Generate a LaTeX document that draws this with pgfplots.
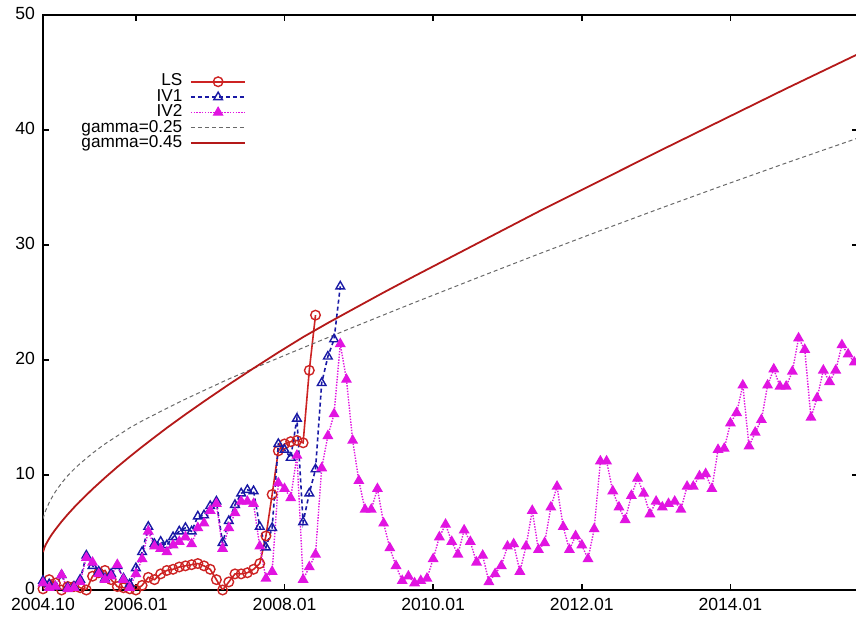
\documentclass[border=0pt]{standalone}
\usepackage{pgfplots}
\usepackage{pgfplotstable}
\pgfplotsset{compat=1.18}
\usepackage{fontspec}
\setmainfont{Liberation Sans}
\definecolor{lsred}{RGB}{205,35,35}
\definecolor{gred}{RGB}{180,25,25}
\definecolor{ivblue}{RGB}{25,25,165}
\definecolor{ivmag}{RGB}{225,20,225}
\definecolor{ggray}{RGB}{105,105,105}

\pgfplotstableread{
x y
0 0.1
1 0.9
2 0.6
3 0.0
4 0.3
5 0.3
6 0.2
7 0.0
8 1.2
9 1.5
10 1.7
11 0.9
12 0.3
13 0.2
14 0.1
15 0.0
16 0.4
17 1.1
18 0.9
19 1.4
20 1.7
21 1.8
22 2.0
23 2.1
24 2.2
25 2.3
26 2.1
27 1.8
28 0.9
29 0.0
30 0.7
31 1.4
32 1.4
33 1.5
34 1.8
35 2.3
36 4.7
37 8.3
38 12.1
39 12.7
40 12.9
41 13.0
42 12.8
43 19.1
44 23.9
}\lsdata

\pgfplotstableread{
x y
0 0.8
1 0.5
2 0.3
3 1.3
4 0.2
5 0.3
6 0.9
7 3.0
8 2.1
9 1.6
10 1.0
11 1.4
12 2.1
13 1.0
14 0.5
15 1.9
16 3.3
17 5.5
18 4.0
19 4.2
20 3.9
21 4.6
22 5.1
23 5.4
24 5.1
25 6.4
26 6.5
27 7.3
28 7.7
29 4.1
30 6.0
31 7.4
32 8.4
33 8.7
34 8.6
35 5.5
36 3.7
37 5.4
38 12.7
39 12.2
40 11.5
41 14.9
42 5.9
43 8.4
44 10.5
45 18.0
46 20.3
47 21.8
48 26.4
}\ivone

\pgfplotstableread{
x y
0 0.6
1 0.2
2 0.3
3 1.3
4 0.1
5 0.2
6 0.7
7 2.8
8 2.4
9 1.4
10 0.9
11 1.2
12 2.2
13 0.9
14 0.2
15 1.4
16 2.7
17 5.1
18 3.8
19 3.6
20 3.3
21 3.9
22 4.2
23 4.6
24 4.0
25 5.4
26 5.8
27 6.9
28 7.5
29 3.6
30 5.4
31 6.7
32 7.7
33 7.7
34 7.5
35 3.8
36 1.0
37 1.6
38 9.3
39 8.8
40 8.0
41 11.7
42 0.9
43 2.0
44 3.1
45 10.6
46 13.4
47 15.3
48 21.4
49 18.3
50 13.0
51 9.5
52 7.0
53 7.0
54 8.8
55 5.8
56 3.65
57 2.1
58 0.8
59 1.2
60 0.6
61 0.8
62 1.0
63 2.7
64 4.6
65 5.7
66 4.2
67 3.1
68 5.2
69 4.2
70 2.4
71 3.0
72 0.7
73 1.4
74 2.1
75 3.8
76 4.0
77 1.6
78 3.8
79 6.9
80 3.5
81 4.1
82 7.2
83 9.0
84 5.5
85 3.5
86 4.7
87 3.9
88 2.7
89 5.3
90 11.2
91 11.2
92 8.6
93 7.2
94 6.1
95 8.2
96 9.7
97 8.4
98 6.6
99 7.7
100 7.2
101 7.5
102 7.7
103 7.0
104 9.0
105 9.0
106 9.9
107 10.1
108 8.8
109 12.2
110 12.3
111 14.5
112 15.4
113 17.8
114 12.5
115 13.7
116 14.8
117 17.8
118 19.2
119 17.7
120 17.7
121 19.0
122 21.9
123 20.9
124 15.0
125 16.7
126 19.1
127 18.1
128 19.1
129 21.3
130 20.5
131 19.8
}\ivtwo

\pgfplotstableread{
x y
0 6.2
0.25 6.65
0.5 7.0
1 7.6
1.5 8.1
2 8.55
3 9.3
4 9.95
5 10.5
6 11.0
8 11.9
10 12.7
12 13.4
14 14.1
16 14.7
18 15.25
20 15.8
23 16.6
26 17.35
30 18.35
35 19.5
40 20.62
45 21.73
50 22.83
55 23.92
60 25.0
70 27.12
80 29.21
90 31.25
100 33.25
110 35.21
120 37.13
131.6 39.3
}\gone

\pgfplotstableread{
x y
0 3.3
0.25 3.72
0.5 4.0
1 4.48
1.5 4.89
2 5.26
3 5.95
4 6.58
5 7.17
6 7.73
8 8.78
10 9.76
12 10.7
14 11.59
16 12.45
18 13.28
20 14.1
23 15.27
26 16.4
30 17.87
34 19.28
38 20.66
42 21.99
46 23.22
50 24.4
55 25.87
60 27.3
70 30.1
80 32.9
90 35.6
100 38.3
110 40.95
120 43.6
131.6 46.6
}\gtwo

\begin{document}
\begin{tikzpicture}
\begin{axis}[name=ax, scale only axis, width=407.5pt, height=287.5pt,
 xmin=0, xmax=131.6, ymin=0, ymax=50,
 xtick={0,15,39,63,87,111},
 xticklabels={2004.10,2006.01,2008.01,2010.01,2012.01,2014.01},
 ytick={0,10,20,30,40,50},
 tick align=inside, major tick length=3pt,
 axis line style={line width=0.8pt},
 every tick/.style={black, line width=0.8pt},
 tick label style={font=\fontsize{8.8}{10}\selectfont},
 xticklabel style={yshift=-0.5pt, text depth=0pt},
 yticklabel style={text height=5pt, text depth=0pt, xshift=-0.5pt},
 /pgf/number format/assume math mode=true,
 legend plot pos=right, legend cell align=right,
 legend style={at={(0.25,0.898)}, anchor=north east, draw=none, fill=none,
   inner sep=0pt, column sep=3.5pt, font=\fontsize{8.6}{9}\selectfont,
   nodes={inner sep=0.3pt, text height=5.6pt, text depth=1.5pt}},
 legend image code/.code={\draw[mark repeat=2,mark phase=2] plot coordinates {(0cm,0cm) (0.48cm,0cm) (0.96cm,0cm)};},
]
\addplot[lsred, line width=0.8pt, mark=o, mark size=2.4pt, mark options={solid, line width=0.7pt}] table {\lsdata};
\addlegendentry{LS}
\addplot[ivblue, line width=0.8pt, dash pattern=on 2pt off 1.5pt, mark=triangle, mark size=2.5pt, mark options={solid, line width=0.7pt}] table {\ivone};
\addlegendentry{IV1}
\addplot[ivmag, line width=0.7pt, dash pattern=on 0.7pt off 0.7pt, mark=triangle*, mark size=2.5pt, mark options={solid}] table {\ivtwo};
\addlegendentry{IV2}
\addplot[ggray, line width=0.5pt, dash pattern=on 2pt off 1.5pt] table {\gone};
\addlegendentry{gamma=0.25}
\addplot[gred, line width=0.9pt] table {\gtwo};
\addlegendentry{gamma=0.45}
\end{axis}
\pgfresetboundingbox
\path ([shift={(-21.5pt,-15pt)}]ax.south west) rectangle ([shift={(406.5pt,295pt)}]ax.south west);
\end{tikzpicture}
\end{document}
